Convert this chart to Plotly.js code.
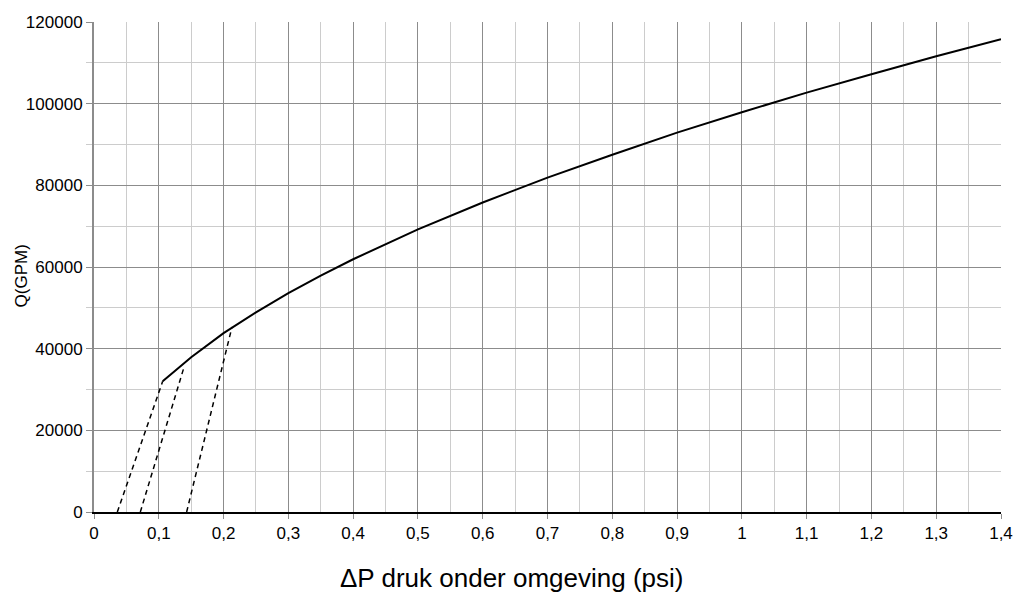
<!DOCTYPE html>
<html>
<head>
<meta charset="utf-8">
<script src="https://cdn.plot.ly/plotly-3.0.1.min.js"></script>
<style>html,body{margin:0;padding:0;background:#fff;}#chart{width:1017px;height:594px;}</style>
</head>
<body>
<div id="chart"></div>
<script>
// Main curve: pressure difference (psi) vs flow (GPM)
const curveDp = [0.106, 0.15, 0.2, 0.25, 0.3, 0.35, 0.4, 0.5, 0.6, 0.7, 0.8, 0.9, 1.0, 1.1, 1.2, 1.3, 1.4];
const curveQ  = [32000, 37900, 43800, 48900, 53600, 57900, 61900, 69200, 75800, 81900, 87500, 92900, 97900, 102700, 107200, 111600, 115800];

// Dashed lines (start at Q = 0, end near the curve)
const dash1Dp = [0.036, 0.106];
const dash1Q  = [0, 32000];
const dash2Dp = [0.0715, 0.139];
const dash2Q  = [0, 35500];
const dash3Dp = [0.143, 0.213];
const dash3Q  = [0, 45300];

const xTitle = "ΔP druk onder omgeving (psi)";
const yTitle = "Q(GPM)";

const font = "Liberation Sans, Arial, sans-serif";

const traces = [
  {x: curveDp, y: curveQ, mode: "lines", line: {color: "#000", width: 2}},
  {x: dash1Dp, y: dash1Q, mode: "lines", line: {color: "#000", width: 1.5, dash: "5px,4px"}},
  {x: dash2Dp, y: dash2Q, mode: "lines", line: {color: "#000", width: 1.5, dash: "5px,4px"}},
  {x: dash3Dp, y: dash3Q, mode: "lines", line: {color: "#000", width: 1.5, dash: "5px,4px"}}
];

const layout = {
  width: 1017, height: 594,
  margin: {l: 94, r: 16, t: 22, b: 82},
  paper_bgcolor: "#fff", plot_bgcolor: "#fff",
  showlegend: false,
  separators: ",.",
  font: {family: font, size: 17, color: "#000"},
  xaxis: {
    range: [0, 1.4], dtick: 0.1, tick0: 0,
    showgrid: true, gridcolor: "#8c8c8c", gridwidth: 1,
    zeroline: false,
    showline: true, linecolor: "#000", linewidth: 2,
    ticks: "outside", ticklen: 5, tickcolor: "#8c8c8c",
    tickfont: {size: 17, family: font},
    minor: {dtick: 0.05, showgrid: true, gridcolor: "#cccccc", gridwidth: 1}
  },
  yaxis: {
    range: [0, 120000], dtick: 20000, tick0: 0, tickformat: "d",
    showgrid: true, gridcolor: "#8c8c8c", gridwidth: 1,
    zeroline: false,
    showline: true, linecolor: "#8c8c8c", linewidth: 2,
    ticks: "outside", ticklen: 6, tickcolor: "#8c8c8c",
    tickfont: {size: 17, family: font},
    minor: {dtick: 10000, showgrid: true, gridcolor: "#cccccc", gridwidth: 1, ticks: "outside", ticklen: 6, tickcolor: "#cccccc"}
  },
  annotations: [
    {text: xTitle, xref: "paper", yref: "paper", x: 0.461, y: -0.1347,
     xanchor: "center", yanchor: "middle", showarrow: false,
     font: {size: 26, family: font, color: "#000"}},
    {text: yTitle, xref: "paper", yref: "paper", x: -0.0805, y: 0.4827,
     xanchor: "center", yanchor: "middle", showarrow: false, textangle: -90,
     font: {size: 17, family: font, color: "#000"}}
  ]
};

Plotly.newPlot("chart", traces, layout, {staticPlot: true, displayModeBar: false});
</script>
</body>
</html>
